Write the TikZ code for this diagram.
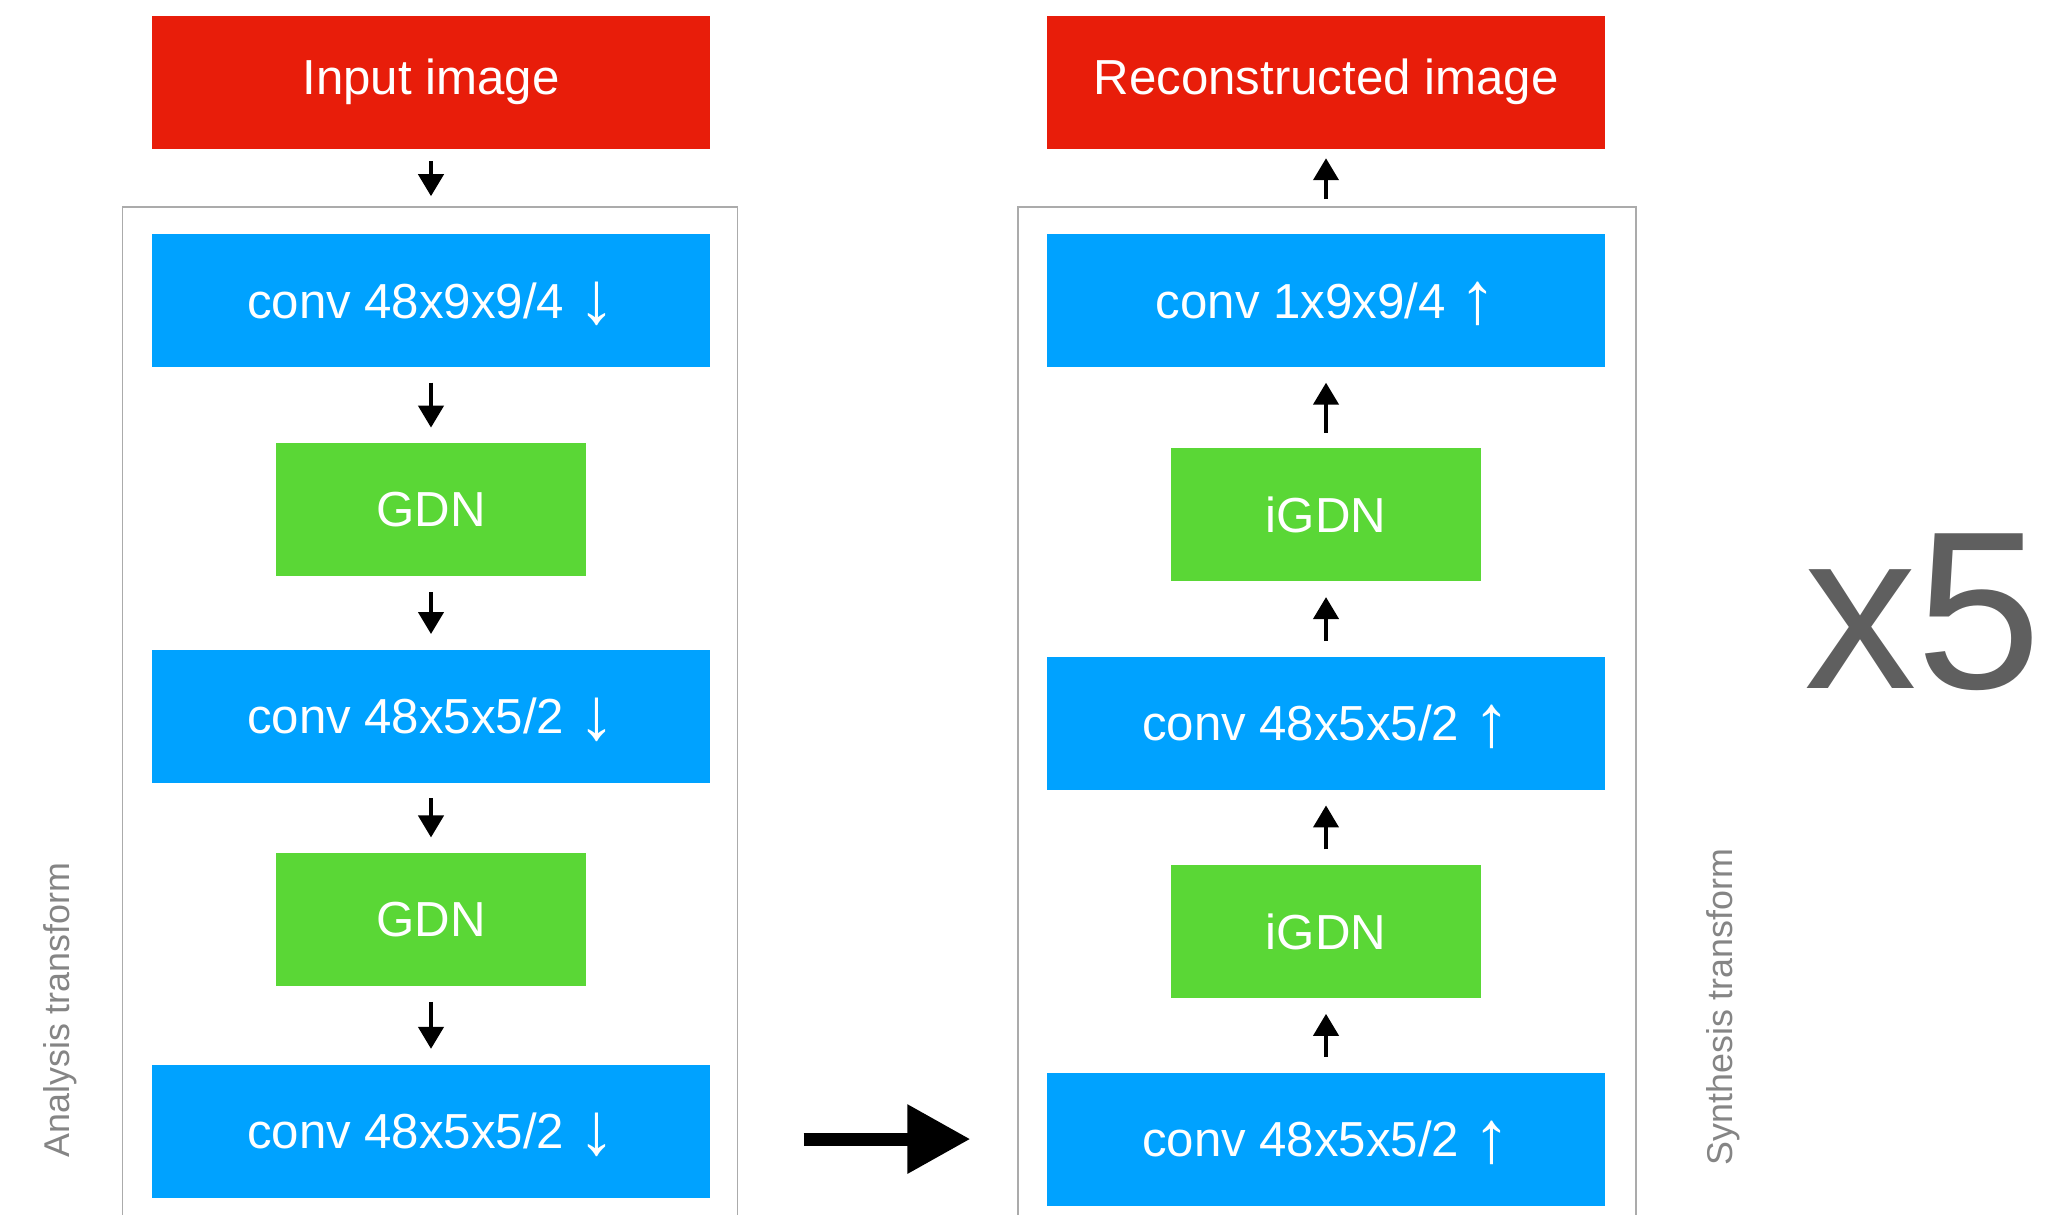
\documentclass[tikz,border=0pt]{standalone}
\usepackage{fontspec}
\setmainfont{Liberation Sans}
\usepackage{tikz}
\usetikzlibrary{positioning, arrows.meta}
\definecolor{imgred}{HTML}{E81D0A}
\definecolor{convblue}{HTML}{00A2FF}
\definecolor{gdngreen}{HTML}{5AD736}
\definecolor{framegray}{HTML}{ABABAB}
\definecolor{labelgray}{HTML}{858585}
\definecolor{repgray}{HTML}{5F5F5F}
\newcommand{\downsym}{\smash{\raisebox{-0.12em}{\fontsize{21}{21}\selectfont ↓}}}
\newcommand{\upsym}{\smash{\raisebox{-0.12em}{\fontsize{21}{21}\selectfont ↑}}}
\tikzstyle{imgbox} = [rectangle, fill=imgred, text=white, minimum width=5.58cm,
minimum height=1.33cm, inner sep=0pt, font=\fontsize{14}{16}\selectfont]
\tikzstyle{convbox} = [imgbox, fill=convblue]
\tikzstyle{gdnbox} = [imgbox, fill=gdngreen, minimum width=3.1cm]
\tikzstyle{line} = [draw, line width=1.2pt, -{Triangle[length=0.22cm, width=0.25cm]},
shorten <=0.15cm, shorten >=0.15cm]
\tikzstyle{bigline} = [draw, line width=0.13cm, -{Triangle[length=0.63cm, width=0.66cm]}]
\tikzstyle{stage} = [draw=framegray, line width=0.5pt]
\tikzstyle{sidelabel} = [text=labelgray, rotate=90, font=\fontsize{10.2}{12}\selectfont]
\begin{document}
\begin{tikzpicture}
	\useasboundingbox (0,0) rectangle (20.65,-12.14);
	\clip (0,0) rectangle (20.65,-12.14);
	% Analysis transform
	\node [imgbox] (input) at (4.31,-0.82) {Input image};
	\node [convbox, below=0.84cm of input] (aconv1) {conv 48x9x9/4 \downsym};
	\node [gdnbox, below=0.75cm of aconv1] (agdn1) {GDN};
	\node [convbox, below=0.72cm of agdn1] (aconv2) {conv 48x5x5/2 \downsym};
	\node [gdnbox, below=0.69cm of aconv2] (agdn2) {GDN};
	\node [convbox, below=0.77cm of agdn2] (aconv3) {conv 48x5x5/2 \downsym};
	%
	\path [line, shorten <=0.12cm, shorten >=0.37cm] (input) -- (aconv1);
	\path [line] (aconv1) -- (agdn1);
	\path [line] (agdn1) -- (aconv2);
	\path [line] (aconv2) -- (agdn2);
	\path [line] (agdn2) -- (aconv3);
	
	% Synthesis transform
	\node [imgbox] (recon) at (13.26,-0.82) {Reconstructed image};
	\node [convbox, below=0.84cm of recon] (sconv1) {conv 1x9x9/4 \upsym};
	\node [gdnbox, below=0.80cm of sconv1] (sgdn1) {iGDN};
	\node [convbox, below=0.74cm of sgdn1] (sconv2) {conv 48x5x5/2 \upsym};
	\node [gdnbox, below=0.74cm of sconv2] (sgdn2) {iGDN};
	\node [convbox, below=0.73cm of sgdn2] (sconv3) {conv 48x5x5/2 \upsym};
	%
	\path [line, shorten <=0.34cm, shorten >=0.09cm] (sconv1) -- (recon);
	\path [line] (sgdn1) -- (sconv1);
	\path [line] (sconv2) -- (sgdn1);
	\path [line] (sgdn2) -- (sconv2);
	\path [line] (sconv3) -- (sgdn2);
	
	% frames, open at the bottom
	\draw [stage] (1.225,-12.3) |- (7.375,-2.07) -- (7.375,-12.3);
	\draw [stage] (10.18,-12.3) |- (16.36,-2.07) -- (16.36,-12.3);
	\node [sidelabel] (alabel) at (0.6,-10.1) {Analysis transform};
	\node [sidelabel] (slabel) at (17.23,-10.07) {Synthesis transform};
	
	\path [bigline] ([xshift=0.93cm]aconv3.east |- sconv3.west) -- ([xshift=-0.76cm]sconv3.west);
	
	\node [text=repgray, font=\fontsize{64}{70}\selectfont, anchor=base] (rep) at (19.23,-6.88) {x5};
\end{tikzpicture}
\end{document}
